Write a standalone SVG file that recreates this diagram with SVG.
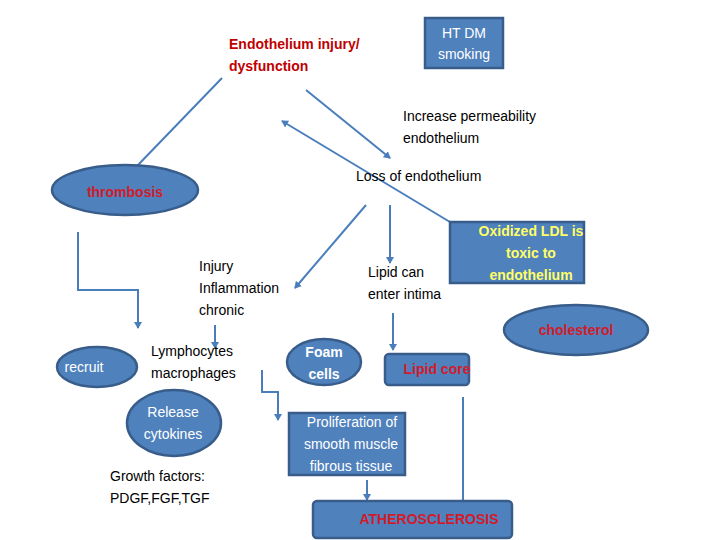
<svg xmlns="http://www.w3.org/2000/svg" width="720" height="540" viewBox="0 0 720 540">
<style>
.s{fill:#4F81BD;stroke:#385D8A;stroke-width:2.5}
.t{font-family:"Liberation Sans",Arial,sans-serif;font-size:14px}
.k{fill:#000}.w{fill:#fff}.r{fill:#C00000;font-weight:bold}.rr{fill:#D21B2A;font-weight:bold}.y{fill:#FFFF66;font-weight:bold}
.c{stroke:#4A7EBB;stroke-width:2;fill:none}
</style>
<defs><marker id="a" markerWidth="8" markerHeight="8" refX="6" refY="4" orient="auto" markerUnits="userSpaceOnUse"><path d="M0,0L7,4L0,8z" fill="#4A7EBB"/></marker></defs>
<rect width="720" height="540" fill="#fff"/>
<g id="connectors">
<line class="c" x1="222" y1="78" x2="138" y2="165"/>
<line class="c" x1="306" y1="90" x2="390" y2="158" marker-end="url(#a)"/>
<line class="c" x1="450" y1="222" x2="282" y2="121" marker-end="url(#a)"/>
<line class="c" x1="366" y1="205" x2="295" y2="288" marker-end="url(#a)"/>
<line class="c" x1="390" y1="205" x2="390" y2="263" marker-end="url(#a)"/>
<polyline class="c" points="78,232 78,290 138,290 138,328" marker-end="url(#a)"/>
<line class="c" x1="215" y1="325" x2="215" y2="348" marker-end="url(#a)"/>
<line class="c" x1="393" y1="313" x2="393" y2="350" marker-end="url(#a)"/>
<polyline class="c" points="262,370 262,392 278,392 278,420" marker-end="url(#a)"/>
<line class="c" x1="367" y1="480" x2="367" y2="500" marker-end="url(#a)"/>
<line class="c" x1="463" y1="397" x2="463" y2="508" marker-end="url(#a)"/>
</g>
<g id="n_endo"><text class="t r" x="229" y="49">Endothelium injury/</text><text class="t r" x="229" y="71">dysfunction</text></g>
<g id="n_ht"><rect class="s" x="425" y="18" width="78" height="50"/><text class="t w" x="464" y="38" text-anchor="middle">HT  DM</text><text class="t w" x="464" y="59" text-anchor="middle">smoking</text></g>
<g id="n_perm"><text class="t k" x="403" y="121">Increase permeability</text><text class="t k" x="403" y="143">endothelium</text></g>
<g id="n_loss"><text class="t k" x="356" y="181">Loss of endothelium</text></g>
<g id="n_thromb"><ellipse class="s" cx="125" cy="190" rx="73" ry="25"/><text class="t rr" x="125" y="197" text-anchor="middle">thrombosis</text></g>
<g id="n_ox"><rect class="s" x="450" y="222" width="134" height="61"/><text class="t y" x="531" y="236" text-anchor="middle">Oxidized LDL is</text><text class="t y" x="531" y="258" text-anchor="middle">toxic to</text><text class="t y" x="531" y="280" text-anchor="middle">endothelium</text></g>
<g id="n_injury"><text class="t k" x="199" y="271">Injury</text><text class="t k" x="199" y="293">Inflammation</text><text class="t k" x="199" y="315">chronic</text></g>
<g id="n_lipid"><text class="t k" x="368" y="277">Lipid can</text><text class="t k" x="368" y="299">enter intima</text></g>
<g id="n_chol"><ellipse class="s" cx="576" cy="330" rx="72" ry="25"/><text class="t rr" x="576" y="335" text-anchor="middle">cholesterol</text></g>
<g id="n_recruit"><ellipse class="s" cx="97" cy="367" rx="40" ry="20"/><text class="t w" x="84" y="372" text-anchor="middle">recruit</text></g>
<g id="n_lymph"><text class="t k" x="151" y="356">Lymphocytes</text><text class="t k" x="151" y="378">macrophages</text></g>
<g id="n_foam"><ellipse class="s" cx="324" cy="362" rx="37" ry="23"/><text class="t w" x="324" y="357" text-anchor="middle" font-weight="bold">Foam</text><text class="t w" x="324" y="379" text-anchor="middle" font-weight="bold">cells</text></g>
<g id="n_core"><rect class="s" x="385" y="354" width="84" height="31" rx="4"/><text class="t rr" x="437" y="374" text-anchor="middle">Lipid core</text></g>
<g id="n_release"><ellipse class="s" cx="174" cy="423" rx="47" ry="33"/><text class="t w" x="173" y="417" text-anchor="middle">Release</text><text class="t w" x="173" y="439" text-anchor="middle">cytokines</text></g>
<g id="n_prolif"><rect class="s" x="289" y="413" width="116" height="62"/><text class="t w" x="352" y="427" text-anchor="middle">Proliferation of</text><text class="t w" x="351" y="449" text-anchor="middle">smooth muscle</text><text class="t w" x="351" y="471" text-anchor="middle">fibrous tissue</text></g>
<g id="n_growth"><text class="t k" x="110" y="481">Growth factors:</text><text class="t k" x="110" y="503">PDGF,FGF,TGF</text></g>
<g id="n_athero"><rect class="s" x="313" y="501" width="199" height="37" rx="4"/><text class="t rr" x="429" y="524" text-anchor="middle">ATHEROSCLEROSIS</text></g>
</svg>
